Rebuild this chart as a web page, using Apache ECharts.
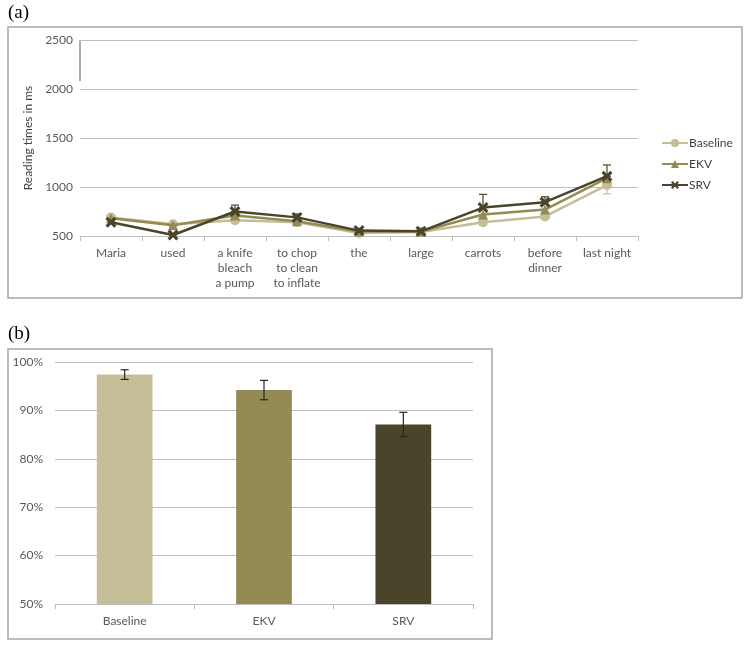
<!DOCTYPE html>
<html lang="en">
<head>
    <meta charset="UTF-8">
    <title>Reading times and accuracy</title>
    <style>
      * { padding: 0; margin: 0; }
      body { background: #fff; }
    </style>
</head>
<body>
    <div id="main" style="width: 751px;height:648px;"></div>
    <script src="https://cdn.jsdelivr.net/npm/echarts@6/dist/echarts.min.js"></script>
    <script>
    // (a) reading times per region
    var regions = ['Maria', 'used', 'a knife\nbleach\na pump', 'to chop\nto clean\nto inflate', 'the', 'large', 'carrots', 'before\ndinner', 'last night'];
    var baseline = [690, 620, 660, 640, 530, 540, 640, 700, 1020];
    var ekv      = [680, 610, 710, 650, 545, 545, 720, 770, 1090];
    var srv      = [640, 510, 750, 690, 555, 548, 790, 845, 1110];
    var srvErr   = [20, 15, 65, 35, 15, 15, 135, 55, 115];
    var baseErr  = [20, 20, 20, 20, 15, 15, 20, 20, 90];

    // (b) accuracy per condition
    var conditions = ['Baseline', 'EKV', 'SRV'];
    var accuracy   = [97.4, 94.2, 87.1];
    var accErr     = [1.0, 2.0, 2.5];

    var colors = ['#c4bd97', '#948a54', '#4a452a'];
    var font = 'Lato';
    var xShape = 'path://M2,0 L5,3 L8,0 L10,2 L7,5 L10,8 L8,10 L5,7 L2,10 L0,8 L3,5 L0,2 Z';

    // vertical error bar with caps, value = [x, low, high]
    function errorBar(color, cap) {
        return function (params, api) {
            var lo = api.coord([api.value(0), api.value(1)]);
            var hi = api.coord([api.value(0), api.value(2)]);
            var st = { stroke: color, lineWidth: 1.2 };
            return {
                type: 'group',
                children: [
                    { type: 'line', shape: { x1: lo[0], y1: lo[1], x2: hi[0], y2: hi[1] }, style: st },
                    { type: 'line', shape: { x1: hi[0] - cap, y1: hi[1], x2: hi[0] + cap, y2: hi[1] }, style: st },
                    { type: 'line', shape: { x1: lo[0] - cap, y1: lo[1], x2: lo[0] + cap, y2: lo[1] }, style: st }
                ]
            };
        };
    }

    var srvBars = srv.map(function (v, i) { return [i, v, v + srvErr[i]]; });
    var baseBars = baseline.map(function (v, i) { return [i, v - baseErr[i], v]; });
    var accBars = accuracy.map(function (v, i) { return [i, v - accErr[i], v + accErr[i]]; });

    var axisLbl = { color: '#595959', fontSize: 12, fontFamily: font };
    var gridLine = { lineStyle: { color: '#bfbfbf', width: 1 } };

    option = {
        animation: false,
        color: colors,
        textStyle: { fontFamily: font },
        graphic: [
            { type: 'text', left: 8, top: 4, style: { text: '(a)', font: '19px "Liberation Serif"', fill: '#000' } },
            { type: 'rect', shape: { x: 8, y: 27, width: 734, height: 271 }, style: { fill: 'none', stroke: '#a6a6a6', lineWidth: 1.5 } },
            { type: 'line', shape: { x1: 80, y1: 40, x2: 80, y2: 81 }, style: { stroke: '#595959', lineWidth: 1 } },
            { type: 'text', left: 8, top: 325, style: { text: '(b)', font: '19px "Liberation Serif"', fill: '#000' } },
            { type: 'rect', shape: { x: 8, y: 349, width: 484, height: 290 }, style: { fill: 'none', stroke: '#a6a6a6', lineWidth: 1.5 } }
        ],
        legend: {
            data: ['Baseline', 'EKV', 'SRV'],
            orient: 'vertical',
            left: 656,
            top: 132,
            itemGap: 9,
            itemWidth: 26,
            itemHeight: 10,
            textStyle: { color: '#404040', fontSize: 12, fontFamily: font, padding: [0, 0, 0, -4] }
        },
        grid: [
            { left: 80, top: 40, width: 558, height: 196 },
            { left: 55, top: 362, width: 418, height: 242 }
        ],
        xAxis: [
            {
                gridIndex: 0, type: 'category', data: regions,
                axisLine: gridLine,
                axisTick: { show: true, length: 5, lineStyle: { color: '#bfbfbf' } },
                axisLabel: Object.assign({ interval: 0, margin: 10, lineHeight: 15 }, axisLbl)
            },
            {
                gridIndex: 1, type: 'category', data: conditions,
                axisLine: gridLine,
                axisTick: { show: true, length: 5, lineStyle: { color: '#bfbfbf' } },
                axisLabel: Object.assign({ margin: 11 }, axisLbl)
            }
        ],
        yAxis: [
            {
                gridIndex: 0, type: 'value', min: 500, max: 2500, interval: 500,
                name: 'Reading times in ms', nameLocation: 'middle', nameGap: 45, nameRotate: 90,
                nameTextStyle: { color: '#404040', fontSize: 12, fontFamily: font },
                axisLine: { show: false }, axisTick: { show: false },
                splitLine: gridLine,
                axisLabel: Object.assign({ margin: 7, formatter: function (v) { return String(v); } }, axisLbl)
            },
            {
                gridIndex: 1, type: 'value', min: 50, max: 100, interval: 10,
                axisLine: { show: false }, axisTick: { show: false },
                splitLine: gridLine,
                axisLabel: Object.assign({ margin: 12, formatter: '{value}%' }, axisLbl)
            }
        ],
        series: [
            {
                name: 'Baseline', type: 'line', xAxisIndex: 0, yAxisIndex: 0, data: baseline,
                symbol: 'circle', symbolSize: 10, z: 3,
                lineStyle: { width: 2.5, color: colors[0] }, itemStyle: { color: colors[0] }
            },
            {
                name: 'EKV', type: 'line', xAxisIndex: 0, yAxisIndex: 0, data: ekv,
                symbol: 'triangle', symbolSize: 10, z: 4,
                lineStyle: { width: 2.5, color: colors[1] }, itemStyle: { color: colors[1] }
            },
            {
                name: 'SRV', type: 'line', xAxisIndex: 0, yAxisIndex: 0, data: srv,
                symbol: xShape, symbolSize: 11, z: 5,
                lineStyle: { width: 2.5, color: colors[2] }, itemStyle: { color: colors[2] }
            },
            {
                type: 'custom', xAxisIndex: 0, yAxisIndex: 0, data: baseBars, z: 2,
                renderItem: errorBar(colors[0], 4), silent: true
            },
            {
                type: 'custom', xAxisIndex: 0, yAxisIndex: 0, data: srvBars, z: 2,
                renderItem: errorBar(colors[2], 4), silent: true
            },
            {
                type: 'bar', xAxisIndex: 1, yAxisIndex: 1, barWidth: '40%',
                data: accuracy.map(function (v, i) { return { value: v, itemStyle: { color: colors[i] } }; })
            },
            {
                type: 'custom', xAxisIndex: 1, yAxisIndex: 1, data: accBars, z: 5,
                renderItem: errorBar('#262626', 4), silent: true
            }
        ]
    };

    var myChart = echarts.init(document.getElementById('main'));
    myChart.setOption(option);
    </script>
</body>
</html>
